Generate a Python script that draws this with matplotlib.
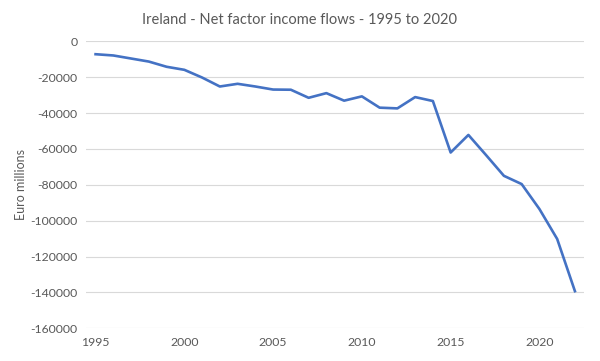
import matplotlib
matplotlib.use('Agg')
import matplotlib.pyplot as plt

# Data
years = list(range(1995, 2023))
net_factor_income = [
    -7200, -7900, -9600, -11300, -14200, -15900, -20200, -25200,
    -23700, -25200, -26900, -27000, -31500, -28900, -33100, -30700,
    -37000, -37400, -31100, -33300, -62000, -52200, -63500, -75000,
    -79600, -93500, -110200, -139300,
]
x_ticks = [1995, 2000, 2005, 2010, 2015, 2020]
y_ticks = list(range(-160000, 1, 20000))

text_color = '#595959'
plt.rcParams['font.family'] = ['Lato', 'DejaVu Sans']

fig = plt.figure(figsize=(6, 3.61), dpi=100)
ax = fig.add_axes([0.143, 0.0906, 0.83, 0.795])

ax.plot(years, net_factor_income, color='#4472C4', linewidth=1.9)

ax.set_xlim(1994.45, 2022.5)
ax.set_ylim(-160000, 0)
ax.set_xticks(x_ticks)
ax.set_yticks(y_ticks)
ax.set_xticklabels([str(y) for y in x_ticks])
ax.set_yticklabels([str(v) for v in y_ticks])
ax.tick_params(length=0, labelsize=8.8, colors=text_color, pad=6)

ax.grid(axis='y', color='#d9d9d9', linewidth=0.8)
ax.set_axisbelow(True)
for side in ['top', 'right', 'left', 'bottom']:
    ax.spines[side].set_visible(False)

ax.set_ylabel('Euro millions', fontsize=9, color=text_color, labelpad=2)
fig.suptitle('Ireland - Net factor income flows - 1995 to 2020', fontsize=10.5,
             color=text_color, y=0.965)

fig.savefig('out.png', dpi=100)
